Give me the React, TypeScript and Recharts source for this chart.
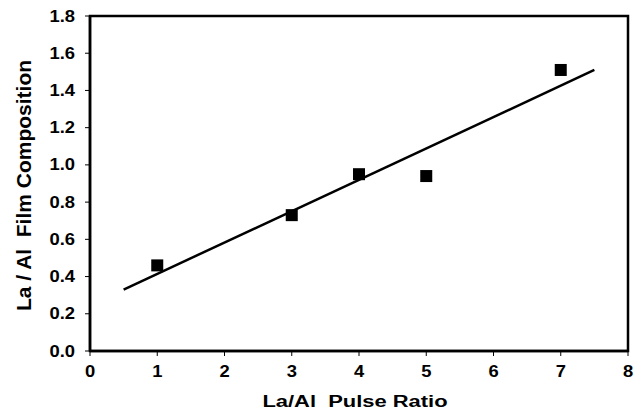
import { ScatterChart, Scatter, XAxis, YAxis, ReferenceArea, Label } from "recharts";

// measured La/Al film composition vs pulse ratio
const pulseRatio = [1, 3, 4, 5, 7];
const composition = [0.46, 0.73, 0.95, 0.94, 1.51];

// linear fit endpoints
const fitX = [0.5, 7.5];
const fitY = [0.33, 1.51];

const xTicks = [0, 1, 2, 3, 4, 5, 6, 7, 8];
const yTicks = [0, 0.2, 0.4, 0.6, 0.8, 1.0, 1.2, 1.4, 1.6, 1.8];

const xTitle = "La/Al  Pulse Ratio";
const yTitle = "La / Al  Film Composition";

const points = pulseRatio.map((x, i) => ({ x, y: composition[i] }));
const fitLine = fitX.map((x, i) => ({ x, y: fitY[i] }));

const FONT = "'Liberation Sans', Arial, sans-serif";
const TICK_SIZE = 16;
const WIDEN = 1.15; // reference text is a bit wider than plain Arial bold

const Square = (props: any) => {
  const { cx, cy } = props;
  if (cx == null || cy == null) return <g />;
  return <rect x={cx - 6} y={cy - 6} width={12} height={12} fill="#000" />;
};

const XTick = (props: any) => {
  const { x, y, payload } = props;
  return (
    <text
      transform={`translate(${x},${y + 11}) scale(${WIDEN},1)`}
      textAnchor="middle"
      fill="#000"
      fontSize={TICK_SIZE}
      fontWeight={700}
      fontFamily={FONT}
    >
      {payload.value}
    </text>
  );
};

const YTick = (props: any) => {
  const { x, y, payload } = props;
  return (
    <text
      transform={`translate(${x},${y + 5.5}) scale(${WIDEN},1)`}
      textAnchor="end"
      fill="#000"
      fontSize={TICK_SIZE}
      fontWeight={700}
      fontFamily={FONT}
    >
      {Number(payload.value).toFixed(1)}
    </text>
  );
};

const XTitle = (props: any) => {
  const vb = props.viewBox;
  const cx = vb.x + vb.width / 2 - 4;
  return (
    <text
      transform={`translate(${cx},${vb.y + 56}) scale(1.29,1)`}
      textAnchor="middle"
      fill="#000"
      fontSize={17}
      fontWeight={700}
      fontFamily={FONT}
      style={{ whiteSpace: "pre" }}
    >
      {xTitle}
    </text>
  );
};

const YTitle = (props: any) => {
  const vb = props.viewBox;
  const cy = vb.y + vb.height / 2 + 2;
  return (
    <text
      transform={`translate(${vb.x + 1},${cy}) rotate(-90) scale(1.05,1)`}
      textAnchor="middle"
      fill="#000"
      fontSize={20}
      fontWeight={700}
      fontFamily={FONT}
      style={{ whiteSpace: "pre" }}
    >
      {yTitle}
    </text>
  );
};

const App = () => {
  return (
    <div style={{ position: "absolute", left: 0, top: 0, width: 642, height: 415, background: "#fff" }}>
      <ScatterChart width={642} height={415} margin={{ top: 16, right: 14, bottom: 0, left: 30 }}>
        <XAxis
          type="number"
          dataKey="x"
          domain={[0, 8]}
          ticks={xTicks}
          interval={0}
          height={64}
          axisLine={{ stroke: "#000", strokeWidth: 2.5 }}
          tickLine={{ stroke: "#000", strokeWidth: 1 }}
          tickSize={5}
          tickMargin={10}
          tick={XTick}
        >
          <Label content={XTitle} />
        </XAxis>
        <YAxis
          type="number"
          dataKey="y"
          domain={[0, 1.8]}
          ticks={yTicks}
          interval={0}
          width={60}
          axisLine={{ stroke: "#000", strokeWidth: 2.5 }}
          tickLine={{ stroke: "#000", strokeWidth: 1 }}
          tickSize={5}
          tickMargin={10}
          tick={YTick}
        >
          <Label content={YTitle} />
        </YAxis>
        <ReferenceArea x1={0} x2={8} y1={0} y2={1.8} fill="none" stroke="#000" strokeWidth={2.5} ifOverflow="visible" />
        <Scatter
          data={fitLine}
          line={{ stroke: "#000", strokeWidth: 2.5 }}
          shape={() => <g />}
          isAnimationActive={false}
        />
        <Scatter data={points} shape={Square} isAnimationActive={false} />
      </ScatterChart>
    </div>
  );
};

export default App;
